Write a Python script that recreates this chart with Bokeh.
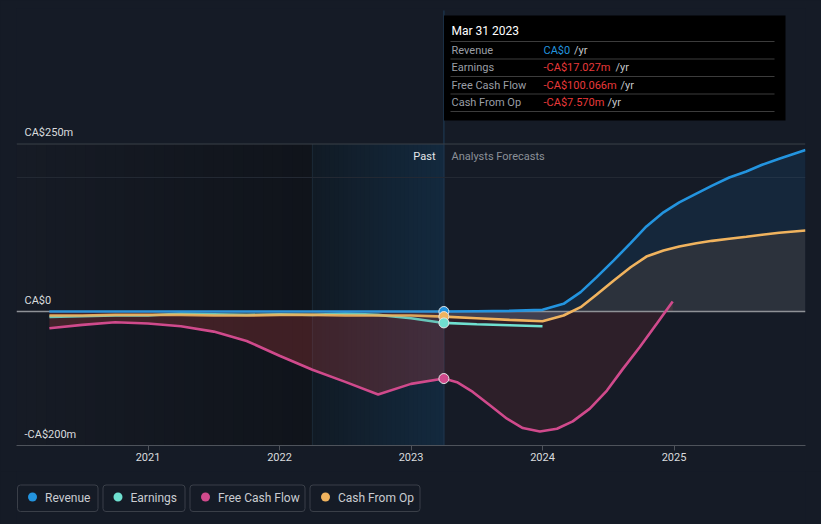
import numpy as np
from bokeh.plotting import figure
from bokeh.layouts import column
from bokeh.models import Range1d, FixedTicker
from bokeh.core.properties import value
from bokeh.embed import file_html
from bokeh.resources import INLINE

# ---------------- data (CA$ millions) ----------------
past_t = [2020.25, 2020.5, 2020.75, 2021.0, 2021.25, 2021.5, 2021.75,
          2022.0, 2022.25, 2022.5, 2022.75, 2023.0, 2023.25]
revenue_past = [0, 0, 0, 0, 0, 0, 0, 0, 0, 0, 0, 0, 0]
earnings_past = [-8, -7, -6, -6, -3, -4, -5, -4, -5, -3, -5, -10, -17.027]
fcf_past = [-25, -20, -16, -18, -22, -30, -44, -66, -87, -105, -124, -108, -100.066]
cfo_past = [-6, -6, -5, -5, -5, -6, -6, -5, -5, -6, -6, -6, -7.570]

fc_t = [2023.25, 2023.5, 2023.75, 2024.0, 2024.16, 2024.29, 2024.41, 2024.54, 2024.67,
        2024.79, 2024.92, 2025.04, 2025.17, 2025.29, 2025.42, 2025.55, 2025.67, 2025.8, 2026.0]
revenue_fc = [0, 0.5, 1, 2.5, 11.5, 29, 51, 76, 102, 127, 148, 163, 176, 188, 200, 209, 219, 228, 241]
cfo_fc = [-7.570, -10, -12.5, -14.5, -6, 6.5, 25, 46, 66, 82, 91, 97, 102, 105.5, 108.5,
          111.5, 114.5, 117.5, 121]

earn_fc_t = [2023.25, 2023.5, 2023.75, 2024.0]
earnings_fc = [-17.027, -19, -20.5, -22]

fcf_fc_t = [2023.25, 2023.35, 2023.47, 2023.6, 2023.73, 2023.85, 2023.98, 2024.11, 2024.23,
            2024.36, 2024.49, 2024.61, 2024.74, 2024.87, 2024.99]
fcf_fc = [-100.066, -105.5, -120, -140, -160, -174, -179, -175, -164, -145, -118, -86, -53, -18, 15]

series_names = ["Revenue", "Earnings", "Free Cash Flow", "Cash From Op"]
series_colors = ["#2394df", "#6fe0d0", "#d04a8c", "#f0b35e"]

year_ticks = [2021, 2022, 2023, 2024, 2025]
y_labels = ["CA$250m", "CA$0", "-CA$200m"]
y_label_vals = [250, 0, -200]

tooltip_title = "Mar 31 2023"
tooltip_rows = ["Revenue", "Earnings", "Free Cash Flow", "Cash From Op"]
tooltip_vals = ["CA$0", "-CA$17.027m", "-CA$100.066m", "-CA$7.570m"]
tooltip_val_colors = ["#2394df", "#e8393a", "#e8393a", "#e8393a"]

past_start, past_end = 2022.25, 2023.25

# ---------------- geometry helpers ----------------
BG = "#151b26"
FONT = value("Roboto")
FX0, FX1 = 16, 805
X0, X1 = 2020.0, 2026.0
FY0, FY1 = 8, 445
Y0, Y1 = -200.0, 452.3


def X(px):
    return X0 + (px - FX0) * (X1 - X0) / (FX1 - FX0)


def Y(py):
    return Y1 - (py - FY0) * (Y1 - Y0) / (FY1 - FY0)


def lerp_color(c0, c1, n):
    a = np.array([int(c0[i:i + 2], 16) for i in (1, 3, 5)], float)
    b = np.array([int(c1[i:i + 2], 16) for i in (1, 3, 5)], float)
    out = []
    for k in range(n):
        f = k / max(n - 1, 1)
        c = a + (b - a) * f
        out.append("#%02x%02x%02x" % tuple(int(round(v)) for v in c))
    return out


p = figure(frame_width=789, frame_height=437, title=None,
           min_border_left=16, min_border_right=16, min_border_top=8, min_border_bottom=26,
           x_range=Range1d(X0, X1), y_range=Range1d(Y0, Y1),
           output_backend="svg", toolbar_location=None, y_axis_location=None,
           background_fill_color=BG, border_fill_color=BG, outline_line_color=None)
p.xgrid.grid_line_color = None
p.ygrid.grid_line_color = None

# background bands (gradient approximated by overlapping bands)
n = 30
e = np.linspace(X0, past_start, n + 1)
w = e[1] - e[0]
cols = lerp_color("#161b25", "#10141b", n)
right1 = list(e[1:-1] + w * 0.6) + [past_start]
p.quad(left=e[:-1], right=right1, bottom=-200, top=250, fill_color=cols, line_color=None)
e2 = np.linspace(past_start, past_end, n + 1)
w2 = e2[1] - e2[0]
cols2 = lerp_color("#111b25", "#13293e", n)
right2 = list(e2[1:-1] + w2 * 0.6) + [past_end]
p.quad(left=e2[:-1], right=right2, bottom=-200, top=250, fill_color=cols2, line_color=None)
p.segment(x0=[past_start], x1=[past_start], y0=[-200], y1=[250], line_color="#1b2a37", line_width=1)
p.segment(x0=[past_end], x1=[past_end], y0=[-200], y1=[Y(10)], line_color="#1c3249", line_width=1.5)

# grid lines
p.segment(x0=[X0], x1=[X1], y0=[250], y1=[250], line_color="#3a4049", line_width=1)
p.segment(x0=[X0], x1=[X1], y0=[200], y1=[200], line_color="#242a34", line_width=1)

# fills
p.varea(x=past_t, y1=fcf_past, y2=0, fill_color="#cd3e3f", fill_alpha=0.25)
p.varea(x=fcf_fc_t, y1=fcf_fc, y2=0, fill_color="#cd3e3f", fill_alpha=0.13)
p.varea(x=fc_t, y1=revenue_fc, y2=cfo_fc, fill_color="#2196f3", fill_alpha=0.1)
p.varea(x=fc_t, y1=cfo_fc, y2=0, fill_color="#ffffff", fill_alpha=0.1)

# zero line
p.segment(x0=[X0], x1=[X1], y0=[0], y1=[0], line_color="#8e9196", line_width=1.3)

# lines
lw = 2.6
p.line(past_t, fcf_past, line_color=series_colors[2], line_width=lw)
p.line(fcf_fc_t, fcf_fc, line_color=series_colors[2], line_width=lw)
p.line(past_t, earnings_past, line_color=series_colors[1], line_width=lw, line_alpha=0.85)
p.line(earn_fc_t, earnings_fc, line_color=series_colors[1], line_width=lw)
p.line(past_t, cfo_past, line_color=series_colors[3], line_width=lw, line_alpha=0.9)
p.line(fc_t, cfo_fc, line_color=series_colors[3], line_width=lw)
p.line(past_t, revenue_past, line_color=series_colors[0], line_width=lw, line_alpha=0.9)
p.line(fc_t, revenue_fc, line_color=series_colors[0], line_width=lw)

# markers at last reported point
mk_y = [revenue_past[-1], cfo_past[-1], earnings_past[-1], fcf_past[-1]]
mk_c = [series_colors[0], series_colors[3], series_colors[1], series_colors[2]]
p.scatter(x=[past_t[-1]] * 4, y=mk_y, size=10, fill_color=mk_c, line_color="#e6e6e6", line_width=1)

# y labels
p.text(x=[X(24)] * 3, y=[v + (311 - 299.5) / 0.67 for v in y_label_vals], text=y_labels,
       text_font=FONT, text_font_size=value("11px"), text_color="#d9dbde",
       text_baseline="middle", text_align="left")

# Past / forecast labels
p.text(x=[X(435)], y=[Y(156)], text=["Past"], text_font=FONT, text_font_size=value("11px"),
       text_color="#e4e6e9", text_baseline="middle", text_align="right")
p.text(x=[X(451)], y=[Y(156)], text=["Analysts Forecasts"], text_font=FONT,
       text_font_size=value("11px"), text_color="#8b9098", text_baseline="middle", text_align="left")

# tooltip box
p.quad(left=[X(443.5)], right=[X(785)], top=[Y(15)], bottom=[Y(120)], fill_color="#000000", line_color=None)
p.text(x=[X(451)], y=[Y(30)], text=[tooltip_title], text_font=FONT, text_font_size=value("12px"),
       text_color="#ffffff", text_baseline="middle", text_align="left")
sep_y = [Y(v) for v in (41, 58.5, 76, 93.5, 111)]
p.segment(x0=[X(450)] * 5, x1=[X(774)] * 5, y0=sep_y, y1=sep_y, line_color="#3c3c3c", line_width=1)
row_y = [Y(v) for v in (49.5, 67, 84.5, 102)]
p.text(x=[X(451)] * 4, y=row_y, text=tooltip_rows, text_font=FONT, text_font_size=value("11px"),
       text_color="#9a9ea5", text_baseline="middle", text_align="left")
p.text(x=[X(543)] * 4, y=row_y, text=tooltip_vals, text_font=FONT, text_font_size=value("11px"),
       text_color=tooltip_val_colors, text_baseline="middle", text_align="left")
p.text(x=[X(v) for v in (573.5, 615, 620, 607)], y=row_y, text=["/yr"] * 4, text_font=FONT,
       text_font_size=value("11px"), text_color="#c4c6ca", text_baseline="middle", text_align="left")

# x axis
ax = p.xaxis[0]
ax.ticker = FixedTicker(ticks=year_ticks)
ax.major_label_overrides = {y: str(y) for y in year_ticks}
ax.axis_line_color = "#4e535b"
ax.major_tick_line_color = "#4e535b"
ax.minor_tick_line_color = None
ax.major_tick_in = 0
ax.major_tick_out = 5
ax.major_label_standoff = 2
ax.major_label_text_color = "#d9dbde"
ax.major_label_text_font = "Roboto"
ax.major_label_text_font_size = "11px"

# ---------------- legend strip ----------------
p2 = figure(width=821, height=53, x_range=Range1d(16, 805), y_range=Range1d(524, 471),
            output_backend="svg", toolbar_location=None, title=None,
            x_axis_location=None, y_axis_location=None,
            min_border_left=16, min_border_right=16, min_border_top=0, min_border_bottom=0,
            background_fill_color=BG, border_fill_color=BG, outline_line_color=None)
p2.xgrid.grid_line_color = None
p2.ygrid.grid_line_color = None
box_l = [17, 102.5, 189.5, 309.5]
box_r = [97.5, 184.5, 304.5, 419.5]
dot_x = [32, 117.5, 205, 325]
txt_x = [44.5, 130, 217.5, 337.5]
p2.quad(left=box_l, right=box_r, top=484.5, bottom=511, fill_color=None,
        line_color="#3a3f48", line_width=1, border_radius=3)
p2.scatter(x=dot_x, y=[496.5] * 4, size=9, fill_color=series_colors, line_color=None)
p2.text(x=txt_x, y=[497] * 4, text=series_names, text_font=FONT, text_font_size=value("12px"),
        text_color="#c9ccd1", text_baseline="middle", text_align="left")

layout = column(p, p2, spacing=0, styles={"background-color": BG})
html = file_html(layout, INLINE)
html = html.replace("</head>", "<style>html,body{background:#151b26;}</style></head>")
open("out.html", "w").write(html)
